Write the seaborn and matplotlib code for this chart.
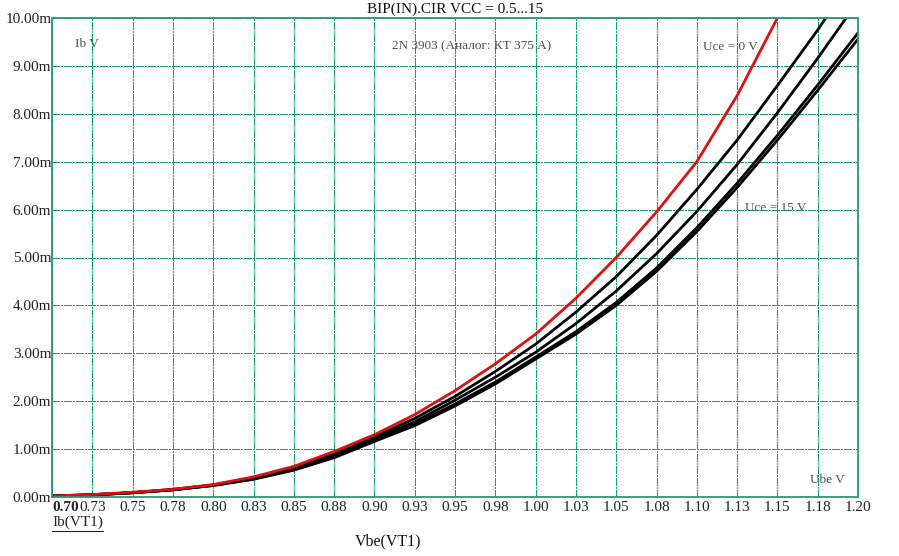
import matplotlib
matplotlib.use("Agg")
import matplotlib.pyplot as plt
from matplotlib.lines import Line2D
import seaborn as sns
import pandas as pd

# ---- data (mA vs V) ----
vbe = [0.700, 0.725, 0.750, 0.775, 0.800, 0.825, 0.850, 0.875, 0.900, 0.925,
       0.950, 0.975, 1.000, 1.025, 1.050, 1.075, 1.100, 1.125, 1.150, 1.175, 1.200]
ib_uce0 = [0.02, 0.05, 0.10, 0.16, 0.26, 0.42, 0.64, 0.95, 1.30, 1.72,
           2.22, 2.78, 3.40, 4.15, 5.00, 5.95, 7.00, 8.38, 10.00, 12.00, 14.00]
ib_b1 = [0.02, 0.05, 0.09, 0.16, 0.25, 0.40, 0.61, 0.92, 1.26, 1.64,
         2.10, 2.62, 3.19, 3.86, 4.60, 5.46, 6.42, 7.45, 8.59, 9.75, 11.00]
ib_b2 = [0.02, 0.05, 0.09, 0.15, 0.25, 0.39, 0.59, 0.88, 1.22, 1.57,
         2.02, 2.50, 3.02, 3.62, 4.30, 5.08, 5.96, 6.94, 8.02, 9.16, 10.35]
ib_b3 = [0.02, 0.04, 0.09, 0.15, 0.24, 0.38, 0.57, 0.84, 1.18, 1.52,
         1.94, 2.40, 2.92, 3.45, 4.06, 4.78, 5.62, 6.55, 7.55, 8.60, 9.69]
ib_b4 = [0.02, 0.04, 0.09, 0.15, 0.24, 0.37, 0.56, 0.82, 1.16, 1.49,
         1.90, 2.36, 2.88, 3.40, 4.00, 4.71, 5.54, 6.46, 7.45, 8.49, 9.56]
series_names = ["Uce=0", "c1", "c2", "c3", "c4"]
series_colors = ["#e01010", "#000000", "#000000", "#000000", "#000000"]

x_ticks = [0.700, 0.725, 0.750, 0.775, 0.800, 0.825, 0.850, 0.875, 0.900, 0.925,
           0.950, 0.975, 1.000, 1.025, 1.050, 1.075, 1.100, 1.125, 1.150, 1.175, 1.200]
x_tick_labels = ["0.70", "0.73", "0.75", "0.78", "0.80", "0.83", "0.85", "0.88", "0.90", "0.93",
                 "0.95", "0.98", "1.00", "1.03", "1.05", "1.08", "1.10", "1.13", "1.15", "1.18", "1.20"]
y_ticks = [0, 1, 2, 3, 4, 5, 6, 7, 8, 9, 10]
y_tick_labels = ["0.00m", "1.00m", "2.00m", "3.00m", "4.00m", "5.00m",
                 "6.00m", "7.00m", "8.00m", "9.00m", "10.00m"]

frames = []
for name, vals in zip(series_names, [ib_uce0, ib_b1, ib_b2, ib_b3, ib_b4]):
    frames.append(pd.DataFrame({"Vbe": vbe, "Ib": vals, "curve": name}))
df = pd.concat(frames, ignore_index=True)

sns.set_style("white")
plt.rcParams["font.family"] = ["Liberation Serif", "DejaVu Serif"]

W, H = 899, 556
fig = plt.figure(figsize=(W / 100, H / 100), dpi=100)
L, R, T, B = 52, 858, 18, 497
ax = fig.add_axes([L / W, 1 - B / H, (R - L) / W, (B - T) / H])

order = series_names[1:] + series_names[:1]
sns.lineplot(data=df, x="Vbe", y="Ib", hue="curve", hue_order=order,
             palette=dict(zip(series_names, series_colors)),
             estimator=None, sort=False, linewidth=2.0, legend=False, ax=ax)
for ln in ax.lines:
    ln.set_solid_joinstyle("round")

ax.set_xlim(0.70, 1.20)
ax.set_ylim(0, 10)
ax.set_xticks(x_ticks)
ax.set_yticks(y_ticks)
ax.set_xticklabels(x_tick_labels, fontsize=11)
ax.set_yticklabels(y_tick_labels, fontsize=11)
lbl0 = ax.get_xticklabels()[0]
lbl0.set_horizontalalignment("left")
lbl0.set_fontweight("bold")
ax.tick_params(axis="both", length=0, colors="#222222")
ax.tick_params(axis="y", pad=0.5)
ax.tick_params(axis="x", pad=3)
ax.set_xlabel("")
ax.set_ylabel("")

grid_color = "#12a070"
ax.grid(True, color=grid_color, linestyle=(0, (7, 2, 1.5, 2)), linewidth=0.72,
        antialiased=False)
ax.set_axisbelow(True)
for s in ax.spines.values():
    s.set_color("#2a9a6c")
    s.set_linewidth(1.3)

def ftext(x, y, s, **kw):
    fig.text(x / W, 1 - y / H, s, **kw)

ftext(455, 9, "BIP(IN).CIR VCC = 0.5...15", ha="center", va="center", fontsize=11, color="#111111")
ann = dict(fontsize=9.5, color="#505050", va="center", ha="left")
ftext(75, 44, "Ib V", **ann)
ftext(392, 46, "2N 3903 (Аналог: КТ 375 А)", **ann)
ftext(703, 47, "Uce = 0 V", **ann)
ftext(745, 208, "Uce = 15 V", **ann)
ftext(810, 480, "Ube V", **ann)
ftext(52, 522, "Ib(VT1)", ha="left", va="center", fontsize=11, color="#222222")
fig.add_artist(Line2D([52 / W, 103 / W], [1 - 531 / H, 1 - 531 / H], color="#222222", linewidth=0.8))
ftext(388, 541, "Vbe(VT1)", ha="center", va="center", fontsize=11.5, color="#111111")

fig.savefig("out.png", dpi=100)
